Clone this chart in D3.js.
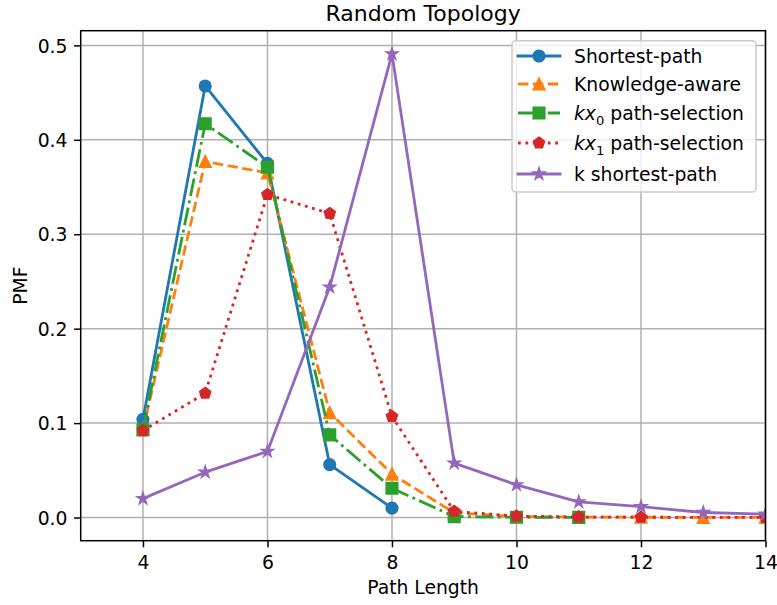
<!DOCTYPE html>
<html>
<head>
<meta charset="utf-8">
<script src="https://cdn.jsdelivr.net/npm/d3@7"></script>
<style>
  html, body { margin: 0; padding: 0; background: #ffffff; }
  svg { display: block; font-family: "DejaVu Sans", sans-serif; }
</style>
</head>
<body>
<svg id="chart" width="777" height="605"></svg>
<script>
// Path-length distributions (PMF) for each routing scheme
const shortestX = [4, 5, 6, 7, 8];
const shortestY = [0.104, 0.457, 0.375, 0.056, 0.010];

const knowledgeX = [4, 5, 6, 7, 8, 9, 10, 11, 12, 13, 14];
const knowledgeY = [0.093, 0.377, 0.365, 0.111, 0.046, 0.005, 0.001, 0.0005, 0.0003, 0.0002, 0.0001];

const kx0X = [4, 5, 6, 7, 8, 9, 10, 11];
const kx0Y = [0.093, 0.417, 0.371, 0.0875, 0.031, 0.001, 0.0003, 0.0001];

const kx1X = [4, 5, 6, 7, 8, 9, 10, 11, 12, 14];
const kx1Y = [0.092, 0.1316, 0.342, 0.322, 0.107, 0.0065, 0.0015, 0.0005, 0.0003, 0.0001];

const kShortestX = [4, 5, 6, 7, 8, 9, 10, 11, 12, 13, 14];
const kShortestY = [0.020, 0.048, 0.070, 0.244, 0.491, 0.0576, 0.0346, 0.0165, 0.0115, 0.0053, 0.0035];

const xTickValues = [4, 6, 8, 10, 12, 14];
const yTickValues = [0.0, 0.1, 0.2, 0.3, 0.4, 0.5];

const seriesNames = ["Shortest-path", "Knowledge-aware", "kx0 path-selection", "kx1 path-selection", "k shortest-path"];

const titleText = "Random Topology";
const xLabelText = "Path Length";
const yLabelText = "PMF";

// Styling for each series (tab10 colours, matplotlib-like line styles)
const LW = 2.8;
const styles = [
  { color: "#1f77b4", dash: null, marker: "circle" },
  { color: "#ff7f0e", dash: [10.4, 4.5], marker: "triangle" },
  { color: "#2ca02c", dash: [18, 4.5, 2.8, 4.5], marker: "square" },
  { color: "#d62728", dash: [2.8, 4.64], marker: "pentagon" },
  { color: "#9467bd", dash: null, marker: "star" }
];

const series = [
  { x: shortestX, y: shortestY },
  { x: knowledgeX, y: knowledgeY },
  { x: kx0X, y: kx0Y },
  { x: kx1X, y: kx1Y },
  { x: kShortestX, y: kShortestY }
].map((s, i) => ({
  name: seriesNames[i],
  points: s.x.map((xv, j) => ({ x: xv, y: s.y[j] })),
  ...styles[i]
}));

const svg = d3.select("#chart");
const plot = { left: 80.7, right: 765.5, top: 30.7, bottom: 540.7 };

// y range with 5% padding like matplotlib's auto margins
const allY = series.flatMap(s => s.points.map(p => p.y));
const yMin = Math.min(0, d3.min(allY)), yMax = d3.max(allY);
const yPad = (yMax - yMin) * 0.05;

const x = d3.scaleLinear().domain([3, 14]).range([plot.left, plot.right]);
const y = d3.scaleLinear().domain([yMin - yPad, yMax + yPad]).range([plot.bottom, plot.top]);

const FS = 18.75;

// Grid
const grid = svg.append("g").attr("stroke", "#b0b0b0").attr("stroke-width", 1.5);
xTickValues.forEach(v => grid.append("line")
  .attr("x1", x(v)).attr("x2", x(v)).attr("y1", plot.top).attr("y2", plot.bottom));
yTickValues.forEach(v => grid.append("line")
  .attr("x1", plot.left).attr("x2", plot.right).attr("y1", y(v)).attr("y2", y(v)));

// Marker shapes (sizes follow a 6pt marker)
const MS = 11.25;
function markerPath(kind) {
  const r = MS / 2;
  if (kind === "circle") return d3.symbol(d3.symbolCircle, Math.PI * r * r)();
  if (kind === "square") return `M${-r},${-r}H${r}V${r}H${-r}Z`;
  if (kind === "triangle") return `M0,${-r}L${-r},${r}L${r},${r}Z`;
  if (kind === "pentagon" || kind === "star") {
    const n = 5, pts = [];
    const inner = kind === "star" ? 0.381966 * r : null;
    for (let k = 0; k < n; k++) {
      const a = -Math.PI / 2 + k * 2 * Math.PI / n;
      pts.push([r * Math.cos(a), r * Math.sin(a)]);
      if (inner) {
        const b = a + Math.PI / n;
        pts.push([inner * Math.cos(b), inner * Math.sin(b)]);
      }
    }
    return "M" + pts.map(p => p[0].toFixed(3) + "," + p[1].toFixed(3)).join("L") + "Z";
  }
}

// Data
svg.append("clipPath").attr("id", "plotClip").append("rect")
  .attr("x", plot.left).attr("y", plot.top)
  .attr("width", plot.right - plot.left).attr("height", plot.bottom - plot.top);

const dataG = svg.append("g").attr("clip-path", "url(#plotClip)");
const line = d3.line().x(d => x(d.x)).y(d => y(d.y));

series.forEach(s => {
  const g = dataG.append("g");
  g.append("path")
    .datum(s.points)
    .attr("d", line)
    .attr("fill", "none")
    .attr("stroke", s.color)
    .attr("stroke-width", LW)
    .attr("stroke-linejoin", "round")
    .attr("stroke-linecap", s.dash ? "butt" : "square")
    .attr("stroke-dasharray", s.dash ? s.dash.join(",") : null);
  g.selectAll("path.mk")
    .data(s.points)
    .enter().append("path")
    .attr("class", "mk")
    .attr("d", markerPath(s.marker))
    .attr("transform", d => `translate(${x(d.x)},${y(d.y)})`)
    .attr("fill", s.color)
    .attr("stroke", s.color)
    .attr("stroke-width", 1.875)
    .attr("stroke-linejoin", "miter");
});

// Axes
const xAxis = d3.axisBottom(x).tickValues(xTickValues).tickSize(6.6).tickPadding(6.6)
  .tickFormat(d3.format("d"));
const yAxis = d3.axisLeft(y).tickValues(yTickValues).tickSize(6.6).tickPadding(6.6)
  .tickFormat(d3.format(".1f"));

const gx = svg.append("g").attr("transform", `translate(0,${plot.bottom})`).call(xAxis);
const gy = svg.append("g").attr("transform", `translate(${plot.left},0)`).call(yAxis);
[gx, gy].forEach(g => {
  g.select(".domain").remove();
  g.selectAll(".tick line").attr("stroke", "#000").attr("stroke-width", 1.5);
  g.selectAll(".tick text").attr("fill", "#000")
    .style("font-family", "DejaVu Sans").style("font-size", FS + "px");
});
gx.selectAll(".tick text").attr("dy", null).attr("y", 28.8);
gy.selectAll(".tick text").attr("dy", "0.36em");

// Frame
svg.append("rect")
  .attr("x", plot.left).attr("y", plot.top)
  .attr("width", plot.right - plot.left).attr("height", plot.bottom - plot.top)
  .attr("fill", "none").attr("stroke", "#000").attr("stroke-width", 1.5);

// Title and axis labels
svg.append("text").attr("x", (plot.left + plot.right) / 2).attr("y", 20.5)
  .attr("text-anchor", "middle").style("font-size", "22px").text(titleText);
svg.append("text").attr("x", (plot.left + plot.right) / 2).attr("y", 594)
  .attr("text-anchor", "middle").style("font-size", FS + "px").text(xLabelText);
svg.append("text")
  .attr("transform", `translate(26.5,${(plot.top + plot.bottom) / 2}) rotate(-90)`)
  .attr("text-anchor", "middle").style("font-size", FS + "px").text(yLabelText);

// Legend
const legend = svg.append("g");
legend.append("rect")
  .attr("x", 512).attr("y", 40.7).attr("width", 244).attr("height", 151.3)
  .attr("rx", 3.75).attr("ry", 3.75)
  .attr("fill", "#fff").attr("fill-opacity", 0.8)
  .attr("stroke", "#cccccc").attr("stroke-width", 1.5);

const rowY = [56, 84, 113, 143, 174];
series.forEach((s, i) => {
  const cy = rowY[i];
  const row = legend.append("g");
  row.append("line")
    .attr("x1", 518).attr("x2", 560).attr("y1", cy).attr("y2", cy)
    .attr("stroke", s.color).attr("stroke-width", LW)
    .attr("stroke-linecap", s.dash ? "butt" : "square")
    .attr("stroke-dasharray", s.dash ? s.dash.join(",") : null);
  row.append("path")
    .attr("d", markerPath(s.marker))
    .attr("transform", `translate(539,${cy})`)
    .attr("fill", s.color).attr("stroke", s.color).attr("stroke-width", 1.875);
  const t = row.append("text").attr("x", 574).attr("y", cy + 7).style("font-size", FS + "px");
  const m = s.name.match(/^kx(\d) (.*)$/);
  if (m) {
    t.append("tspan").style("font-style", "italic").text("kx");
    t.append("tspan").attr("dy", 4.5).style("font-size", "13.1px").text(m[1]);
    t.append("tspan").attr("dy", -4.5).text(" " + m[2]);
  } else {
    t.text(s.name);
  }
});
</script>
</body>
</html>
